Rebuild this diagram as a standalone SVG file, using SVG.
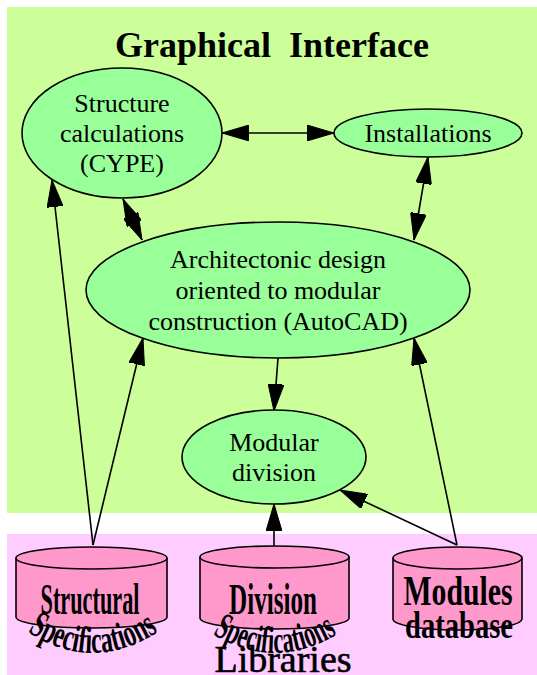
<svg xmlns="http://www.w3.org/2000/svg" xmlns:xlink="http://www.w3.org/1999/xlink" width="537" height="675" viewBox="0 0 537 675">
<style>
.node ellipse{fill:#99ff99;stroke:#000;stroke-width:1.6}
.lbl{font-family:"Liberation Serif",serif;font-size:26px;fill:#000;text-anchor:middle}
.cyl path{fill:#ff99cc;stroke:#000;stroke-width:1.6}
.db{font-family:"Liberation Serif",serif;font-weight:bold;fill:#000;text-anchor:middle}
.edge{stroke:#000;stroke-width:1.6;fill:none}
.title{font-family:"Liberation Serif",serif;font-weight:bold;font-size:36px;text-anchor:middle;white-space:pre}
</style>
<defs>
<marker id="ah" viewBox="0 0 27 16" refX="27" refY="8" markerWidth="27" markerHeight="16" markerUnits="userSpaceOnUse" orient="auto-start-reverse">
<path d="M0,0 L27,8 L0,16 Z" fill="#000" stroke="#000" stroke-width="1"/>
</marker>
<path id="arc1" d="M22,628 Q92,678 164,628"/>
<path id="arc2" d="M206,630 Q275,676 344,630"/>
</defs>
<rect width="537" height="675" fill="#fff"/>
<g id="cluster_gui">
<rect x="7" y="7" width="530" height="506" fill="#ccff99"/>
<text class="title" x="272" y="57">Graphical  Interface</text>
</g>
<g id="cluster_lib">
<rect x="7" y="534" width="530" height="141" fill="#ffccff"/>
<text x="283" y="672" font-family="Liberation Serif,serif" font-size="38" text-anchor="middle" stroke="#000" stroke-width="0.6">Libraries</text>
</g>
<g id="connectors">
<line class="edge" x1="222" y1="133" x2="334" y2="133" marker-start="url(#ah)" marker-end="url(#ah)"/>
<line class="edge" x1="428" y1="157" x2="414" y2="240" marker-start="url(#ah)" marker-end="url(#ah)"/>
<line class="edge" x1="123" y1="199" x2="142" y2="240" marker-start="url(#ah)" marker-end="url(#ah)"/>
<line class="edge" x1="93" y1="545" x2="52" y2="180" marker-end="url(#ah)"/>
<line class="edge" x1="93" y1="545" x2="143" y2="338" marker-end="url(#ah)"/>
<line class="edge" x1="274" y1="546" x2="274" y2="504" marker-end="url(#ah)"/>
<line class="edge" x1="457" y1="545" x2="340" y2="490" marker-end="url(#ah)"/>
<line class="edge" x1="457" y1="545" x2="414" y2="338" marker-end="url(#ah)"/>
<line class="edge" x1="278" y1="358" x2="274" y2="411" marker-end="url(#ah)"/>
</g>
<g id="structure" class="node">
<ellipse cx="122" cy="133" rx="100" ry="65"/>
<text class="lbl" x="122" y="112">Structure</text>
<text class="lbl" x="122" y="142">calculations</text>
<text class="lbl" x="122" y="172">(CYPE)</text>
</g>
<g id="installations" class="node">
<ellipse cx="428" cy="133" rx="94" ry="24"/>
<text class="lbl" x="428" y="142">Installations</text>
</g>
<g id="architectonic" class="node">
<ellipse cx="278" cy="290" rx="192" ry="68"/>
<text class="lbl" x="278" y="268">Architectonic design</text>
<text class="lbl" x="278" y="299">oriented to modular</text>
<text class="lbl" x="278" y="330">construction (AutoCAD)</text>
</g>
<g id="modular" class="node">
<ellipse cx="274" cy="457" rx="92" ry="47"/>
<text class="lbl" x="274" y="451">Modular</text>
<text class="lbl" x="274" y="481">division</text>
</g>
<g id="structural_specs" class="cyl">
<path d="M16,558 A75.5,11 0 0 1 167,558 L167,617 A75.5,11 0 0 1 16,617 Z"/>
<path d="M16,558 A75.5,11 0 0 0 167,558" fill="none"/>
<text class="db" x="90" y="614" font-size="44" textLength="99" lengthAdjust="spacingAndGlyphs">Structural</text>
<text class="db" font-size="38"><textPath xlink:href="#arc1" href="#arc1" startOffset="50%" textLength="140" lengthAdjust="spacingAndGlyphs">Specifications</textPath></text>
</g>
<g id="division_specs" class="cyl">
<path d="M200,557 A74.5,11 0 0 1 349,557 L349,618 A74.5,11 0 0 1 200,618 Z"/>
<path d="M200,557 A74.5,11 0 0 0 349,557" fill="none"/>
<text class="db" x="273" y="614" font-size="44" textLength="88" lengthAdjust="spacingAndGlyphs">Division</text>
<text class="db" font-size="38"><textPath xlink:href="#arc2" href="#arc2" startOffset="50%" textLength="132" lengthAdjust="spacingAndGlyphs">Specifications</textPath></text>
</g>
<g id="modules_db" class="cyl">
<path d="M393,558 A64.5,11 0 0 1 522,558 L522,619 A64.5,11 0 0 1 393,619 Z"/>
<path d="M393,558 A64.5,11 0 0 0 522,558" fill="none"/>
<text class="db" x="458" y="605" font-size="42" textLength="109" lengthAdjust="spacingAndGlyphs">Modules</text>
<text class="db" x="459" y="638" font-size="38" textLength="108" lengthAdjust="spacingAndGlyphs">database</text>
</g>
</svg>
